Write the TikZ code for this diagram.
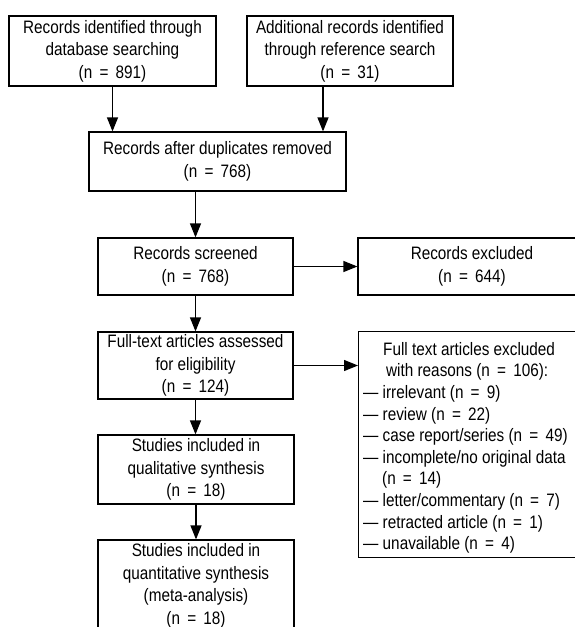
\documentclass[tikz,border=0pt]{standalone}
\usepackage{fontspec}
\setmainfont{Liberation Sans}[FakeStretch=0.85]
\usetikzlibrary{arrows.meta}
\newcommand{\Eq}{\hskip 0.4em=\hskip 0.4em}
\tikzset{
  box/.style={draw=black, line width=1.2pt, align=center, inner sep=0pt,
    font=\fontsize{18}{22.5}\selectfont},
  arr/.style={line width=1.2pt, -{Triangle[length=14pt,width=11pt]}},
  list/.style={align=left, inner sep=0pt, anchor=north west,
    font=\fontsize{18}{21.6}\selectfont}
}
\begin{document}
\begin{tikzpicture}[x=1pt,y=-1pt]
\useasboundingbox (0,0) rectangle (575,627);
\clip (0,0) rectangle (575,627);
\fill[white] (0,0) rectangle (575,627);
\node[box, minimum width=207, minimum height=70] (db) at (112.5,51)
  {Records identified through\\database searching\\(n\Eq 891)};
\node[box, minimum width=206, minimum height=70] (ref) at (350,51)
  {Additional records identified\\through reference search\\(n\Eq 31)};
\node[box, minimum width=257, minimum height=59] (dup) at (217.5,161.5)
  {Records after duplicates removed\\(n\Eq 768)};
\node[box, minimum width=195, minimum height=57] (scr) at (195.5,266.5)
  {Records screened\\(n\Eq 768)};
\node[box, minimum width=228, minimum height=57] (exc) at (472,266.5)
  {Records excluded\\(n\Eq 644)};
\node[box, minimum width=195, minimum height=67] (full) at (195.5,365.5)
  {Full-text articles assessed\\for eligibility\\(n\Eq 124)};
\node[box, minimum width=228, minimum height=226, anchor=north west] (exc2) at (358,331) {};
\node[list] (exc2txt) at (363,342)
  {\hspace*{20pt}Full text articles excluded\\
   \hspace*{23pt}with reasons (n\Eq 106):\\
   — irrelevant (n\Eq 9)\\
   — review (n\Eq 22)\\
   — case report/series (n\Eq 49)\\
   — incomplete/no original data\\
   \hspace*{19pt}(n\Eq 14)\\
   — letter/commentary (n\Eq 7)\\
   — retracted article (n\Eq 1)\\
   — unavailable (n\Eq 4)};
\node[box, minimum width=196, minimum height=69] (qual) at (196,469.5)
  {Studies included in\\qualitative synthesis\\(n\Eq 18)};
\node[box, minimum width=196, minimum height=92] (quant) at (196,586)
  {Studies included in\\quantitative synthesis\\(meta-analysis)\\(n\Eq 18)};
\draw[arr] (db.south) -- (db.south |- dup.north);
\coordinate (refout) at ([xshift=-27pt]ref.south);
\draw[arr] (refout) -- (refout |- dup.north);
\draw[arr] (scr.north |- dup.south) -- (scr.north);
\draw[arr] (scr.east) -- (exc.west);
\draw[arr] (scr.south) -- (full.north);
\draw[arr] (full.east) -- (full.east -| exc2.west);
\draw[arr] (full.south) -- (full.south |- qual.north);
\draw[arr] (qual.south) -- (qual.south |- quant.north);
\end{tikzpicture}
\end{document}
